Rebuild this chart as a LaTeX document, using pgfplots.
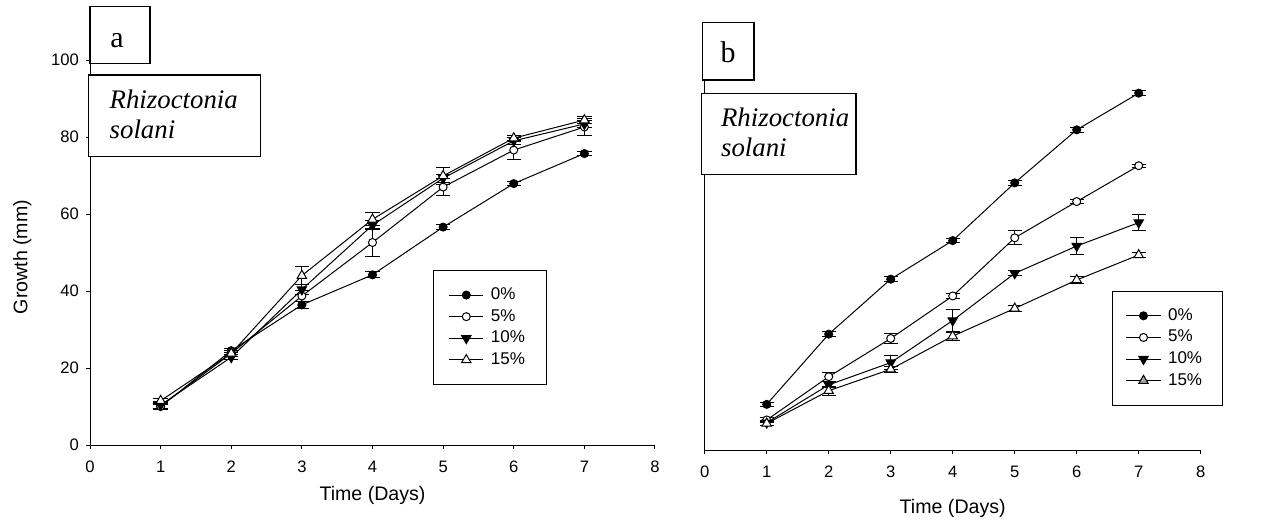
\documentclass[border=0pt]{standalone}
\usepackage{pgfplots}
\pgfplotsset{compat=1.18}
\usepackage{fontspec}
\setmainfont{Liberation Sans}
\newfontfamily\serif{Liberation Serif}
\pgfplotsset{
  base/.style={
    scale only axis,
    xmin=0, xmax=8,
    xtick={0,1,...,8},
    axis x line*=bottom, axis y line*=left,
    tick align=outside,
    major tick length=2pt,
    tick style={black, line width=0.5pt},
    axis line style={black, line width=0.5pt, -},
    ticklabel style={font=\fontsize{8.3}{9}\selectfont},
    xticklabel style={yshift=-2.5pt},
    /pgf/number format/assume math mode=true,
    label style={font=\fontsize{9.8}{11}\selectfont},
    legend cell align=left,
    legend style={draw=black, line width=0.5pt, fill=white, anchor=north west,
      inner xsep=6pt, inner ysep=7pt, row sep=0.4pt,
      font=\fontsize{8.5}{9}\selectfont,
      nodes={inner sep=1.5pt, inner xsep=3.5pt}},
    every axis plot/.append style={black, line width=0.5pt},
  },
  eb/.style={error bars/.cd, y dir=both, y explicit,
    error bar style={line width=0.5pt, black},
    error mark options={rotate=90, mark size=3.6pt, line width=0.5pt, black}},
  s0/.style={mark=*, mark size=2pt, mark options={fill=black, solid}},
  s5/.style={mark=*, mark size=2pt, mark options={fill=white, solid}},
  s10/.style={mark=triangle*, mark size=2.7pt, mark options={rotate=180, fill=black, solid}},
  s15/.style={mark=triangle*, mark size=2.7pt, mark options={fill=white, solid}},
}
\begin{document}
\begin{tikzpicture}
\useasboundingbox (0,0) rectangle (636.5pt,263.5pt);
% ---------------- panel a
\begin{axis}[base,
  at={(45pt,41pt)}, anchor=south west,
  width=282.5pt, height=211.75pt,
  ymin=0, ymax=110, ytick={0,20,...,100},
  xlabel={Time (Days)}, ylabel={Growth (mm)},
  xlabel style={at={(axis description cs:0.5,-0.118)}, anchor=center},
  ylabel style={at={(axis description cs:-0.12,0.444)}, anchor=center, rotate=0},
  legend style={at={(axis description cs:0.6075,0.413)}, inner xsep=7.5pt},
]
\addplot[s0, eb] coordinates {(1,10.0)+-(0,0.6) (2,24.5)+-(0,0.6) (3,36.4)+-(0,1.0) (4,44.2)+-(0,0.8) (5,56.6)+-(0,0.6) (6,67.9)+-(0,0.6) (7,75.7)+-(0,0.6)};
\addplot[s5, eb] coordinates {(1,10.1)+-(0,1.0) (2,23.8)+-(0,0.8) (3,38.7)+-(0,1.5) (4,52.6)+-(0,3.7) (5,67.0)+-(0,2.3) (6,76.6)+-(0,2.4) (7,82.6)+-(0,2.2)};
\addplot[s10, eb] coordinates {(1,10.4)+-(0,0.8) (2,22.8)+-(0,0.6) (3,40.4)+-(0,1.2) (4,57.1)+-(0,1.2) (5,69.3)+-(0,1.0) (6,79.0)+-(0,1.0) (7,83.4)+-(0,1.0)};
\addplot[s15, eb] coordinates {(1,11.5)+-(0,0.6) (2,23.8)+-(0,0.8) (3,44.0)+-(0,2.3) (4,58.6)+-(0,1.7) (5,69.9)+-(0,2.3) (6,79.7)+-(0,0.8) (7,84.4)+-(0,0.8)};
\legend{0\%,5\%,10\%,15\%}
\end{axis}
% ---------------- panel b
\begin{axis}[base,
  at={(352.35pt,38.5pt)}, anchor=south west,
  width=248pt, height=195pt,
  ymin=0, ymax=100, ytick=\empty,
  xlabel={Time (Days)},
  xlabel style={at={(axis description cs:0.5,-0.1487)}, anchor=center},
  legend style={at={(axis description cs:0.822,0.408)}, inner xsep=6.5pt},
]
\addplot[s0, eb] coordinates {(1,11.7)+-(0,0.6) (2,29.7)+-(0,0.6) (3,43.8)+-(0,0.6) (4,53.7)+-(0,0.6) (5,68.5)+-(0,0.6) (6,82.1)+-(0,0.6) (7,91.5)+-(0,0.6)};
\addplot[s5, eb] coordinates {(1,7.7)+-(0,0.6) (2,18.8)+-(0,1.2) (3,28.6)+-(0,1.4) (4,39.5)+-(0,0.6) (5,54.4)+-(0,1.8) (6,63.7)+-(0,0.5) (7,72.9)+-(0,0.4)};
\addplot[s10, eb] coordinates {(1,7.0)+-(0,0.6) (2,16.7)+-(0,0.8) (3,22.4)+-(0,1.8) (4,33.2)+-(0,2.7) (5,45.3)+-(0,0.6) (6,52.3)+-(0,2.1) (7,58.3)+-(0,2.1)};
\addplot[s15, legend image post style={mark options={fill=gray!70, solid}}, eb] coordinates {(1,6.8)+-(0,0.6) (2,15.2)+-(0,1.2) (3,20.7)+-(0,0.8) (4,29.2)+-(0,1.0) (5,36.3)+-(0,0.8) (6,43.6)+-(0,0.8) (7,50.0)+-(0,0.6)};
\legend{0\%,5\%,10\%,15\%}
\end{axis}
% ---------------- annotation boxes (pixel coordinates)
\begin{scope}[x=0.5pt, y=-0.5pt, shift={(0,-527)}]
\draw[fill=white, line width=0.6pt] (90,6.7) rectangle (150,63.3);
\node[font=\serif\fontsize{15}{16}\selectfont, anchor=base] at (117,47) {a};
\draw[fill=white, line width=0.6pt] (88.3,75) rectangle (260.7,156.7);
\node[font=\serif\itshape\fontsize{13.4}{14}\selectfont, anchor=base west, inner sep=0pt] at (109.3,108) {Rhizoctonia};
\node[font=\serif\itshape\fontsize{13.4}{14}\selectfont, anchor=base west, inner sep=0pt] at (109.3,138) {solani};
\draw[fill=white, line width=0.6pt] (702.7,22.7) rectangle (754,80);
\node[font=\serif\fontsize{15}{16}\selectfont, anchor=base] at (728,62) {b};
\draw[fill=white, line width=0.6pt] (701.7,93.3) rectangle (856,174.3);
\node[font=\serif\itshape\fontsize{13.4}{14}\selectfont, anchor=base west, inner sep=0pt] at (720.7,126.7) {Rhizoctonia};
\node[font=\serif\itshape\fontsize{13.4}{14}\selectfont, anchor=base west, inner sep=0pt] at (720.7,156.7) {solani};
\end{scope}
\end{tikzpicture}
\end{document}
